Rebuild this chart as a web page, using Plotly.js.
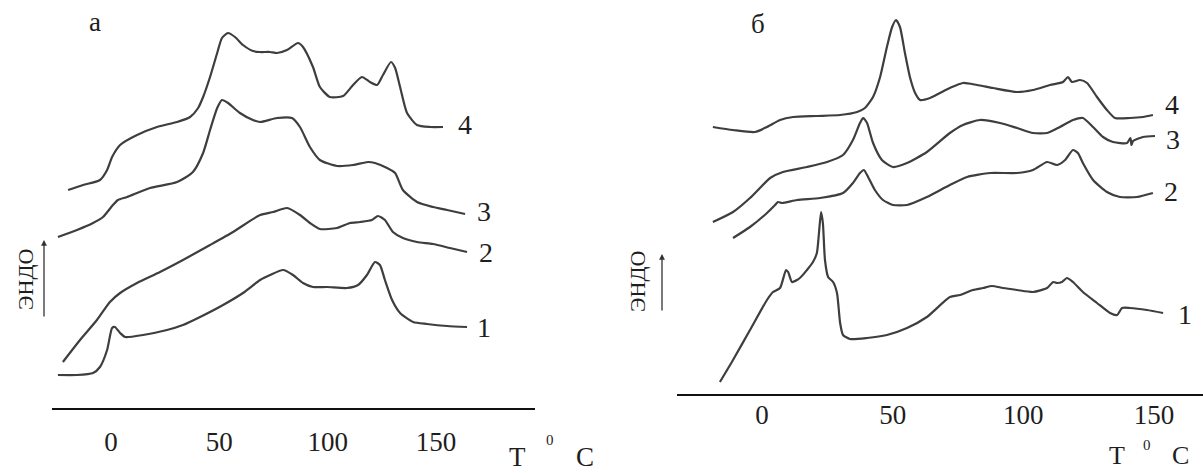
<!DOCTYPE html>
<html>
<head>
<meta charset="utf-8">
<script src="https://cdn.plot.ly/plotly-3.0.1.min.js"></script>
<style>html,body{margin:0;padding:0;background:#fff;}#chart{width:1203px;height:473px;}</style>
</head>
<body>
<div id="chart"></div>
<script>
// Panel "а" — temperature (°C) and relative heat-flow signal (arbitrary units)
const a1_T = [-24.5,-15.7,-8.3,-5.1,-1.8,0.5,1.8,4.2,6.5,14.8,25.8,33.2,41.1,51.7,60.9,68.8,73.4,79.4,84.0,88.6,93.2,99.7,108.9,114.0,118.1,121.8,124.1,126.4,129.7,133.4,139.4,145.8,155.1,164.3];
const a1_S = [33,33,35,41,58,80,81,75,71,73,78,83,91,103,115,128,133,138,133,125,121,121,120,123,133,146,143,128,108,95,86,84,82,81];
const a2_T = [-22.2,-14.3,-6.5,-0.5,4.2,12.0,22.6,33.2,45.7,56.3,68.8,74.8,81.2,87.2,91.8,96.4,104.3,110.3,114.9,120.4,123.2,126.4,130.1,134.7,141.2,148.6,156.4,164.3];
const a2_S = [46,68,88,106,115,125,136,148,163,176,193,196,200,193,185,179,180,185,186,188,192,188,176,170,166,164,160,156];
const a3_T = [-24.5,-15.7,-8.3,-3.7,0.9,3.2,7.4,18.0,30.5,37.8,42.5,45.7,49.0,51.2,54.0,59.5,65.5,68.8,76.6,83.5,87.2,91.8,96.4,104.3,111.7,118.6,121.8,127.4,131.1,134.7,141.2,148.6,155.1,163.4];
const a3_S = [171,178,185,191,203,208,211,220,226,236,255,278,300,308,305,295,288,286,290,290,281,261,248,242,243,246,245,240,235,218,206,201,198,194];
const a4_T = [-19.8,-12.9,-5.1,-1.8,0.5,4.2,12.0,21.2,30.5,36.5,40.2,42.5,45.7,49.0,51.2,54.0,57.2,60.9,65.5,68.7,73.4,76.6,81.2,86.3,88.6,93.2,96.4,101.0,107.1,111.7,115.8,119.5,122.8,125.5,129.2,131.1,133.4,136.6,141.2,147.2,153.2];
const a4_S = [218,223,228,238,251,263,273,281,286,291,300,311,331,355,370,375,371,363,357,356,356,355,358,365,361,341,321,311,312,323,331,326,323,333,346,340,321,295,283,281,281];

// Panel "б"
const b1_T = [-16.1,-11.1,-4.6,1.9,4.2,6.9,9.2,10.0,11.5,14.5,17.2,19.5,21.0,21.8,22.6,23.3,24.1,25.3,27.2,28.7,29.9,31.0,33.7,40.2,47.8,55.5,63.1,71.9,75.8,80.7,84.6,88.0,92.2,97.6,103.7,109.1,111.4,112.9,114.8,116.7,119.0,122.8,128.2,133.2,135.9,137.8,140.8,147.3,153.5];
const b1_S = [12,34,64,94,102,106,124,122,112,116,124,132,141,161,182,171,134,117,112,101,71,59,55,56,59,66,77,97,99,104,106,108,106,104,102,106,112,111,112,116,112,102,91,81,79,86,86,84,81];
const b2_T = [-11.1,-4.6,1.9,5.0,6.1,7.7,13.4,22.2,31.0,34.8,37.5,39.0,40.6,43.2,46.3,50.1,55.5,63.1,71.9,78.5,87.3,97.6,103.7,109.1,112.9,116.0,119.0,120.9,122.8,126.7,132.0,137.0,143.5,149.6];
const b2_S = [156,167,181,189,192,191,194,196,201,211,221,224,217,204,194,189,189,197,209,217,221,221,224,232,229,234,244,241,231,214,202,197,197,201];
const b3_T = [-18.8,-11.1,-4.6,-0.8,3.1,8.0,17.2,24.9,31.0,34.8,37.5,38.7,40.2,42.5,45.9,50.1,55.5,63.1,71.9,76.9,83.4,91.1,97.6,103.7,109.1,114.0,119.0,122.8,126.7,130.5,134.3,139.7,141.0,141.4,142.0,145.8,150.4];
const b3_S = [172,182,196,206,216,222,227,232,239,254,271,276,271,251,234,227,231,242,261,269,274,271,266,261,261,267,274,276,267,257,252,251,256,249,253,257,258];
const b4_T = [-18.8,-11.1,-2.7,1.9,6.9,11.9,21.0,29.9,36.4,39.4,42.5,45.2,47.8,49.8,51.3,52.8,54.7,56.6,58.6,60.5,64.3,68.1,71.9,76.9,82.3,88.4,97.6,103.7,110.2,115.2,117.1,118.6,121.7,124.4,128.2,132.0,135.1,140.8,145.8,149.6];
const b4_S = [267,264,262,267,274,277,278,279,282,286,297,317,347,367,374,367,341,317,301,294,296,301,306,311,309,306,302,304,309,312,317,312,314,311,297,284,276,276,277,279];

const tickVals = [0, 50, 100, 150];
const tickText = ['0', '50', '100', '150'];

const lineStyle = {color: '#3e3e3e', width: 2.2, shape: 'spline', smoothing: 0.6};
function tr(x, y, xa, ya) {
  return {x: x, y: y, xaxis: xa, yaxis: ya, mode: 'lines', line: lineStyle, hoverinfo: 'skip', showlegend: false};
}
const data = [
  tr(a1_T, a1_S, 'x', 'y'), tr(a2_T, a2_S, 'x', 'y'), tr(a3_T, a3_S, 'x', 'y'), tr(a4_T, a4_S, 'x', 'y'),
  tr(b1_T, b1_S, 'x2', 'y2'), tr(b2_T, b2_S, 'x2', 'y2'), tr(b3_T, b3_S, 'x2', 'y2'), tr(b4_T, b4_S, 'x2', 'y2')
];

const W = 1203, H = 473;
const px = v => v / W;
const py = v => 1 - v / H;
const serif = 'Liberation Serif, Times New Roman, serif';
const txt = '#1e1e1e';

function ann(text, x, y, size, extra) {
  return Object.assign({text: text, xref: 'paper', yref: 'paper', x: px(x), y: py(y), showarrow: false,
    xanchor: 'center', yanchor: 'middle', font: {family: serif, size: size, color: txt}}, extra || {});
}

const annotations = [
  ann('а', 95, 22, 27), ann('б', 758, 24, 27),
  ann('4', 465, 124, 28), ann('3', 484, 212, 28), ann('2', 486, 252, 28), ann('1', 484, 327, 28),
  ann('4', 1172, 104, 28), ann('3', 1173, 139, 28), ann('2', 1171, 191, 28), ann('1', 1185, 314, 28),
  ann('T', 517, 457, 27), ann('0', 550, 440, 15), ann('C', 585, 457, 27),
  ann('T', 1117, 455, 26), ann('0', 1147, 445, 15), ann('C', 1180, 455, 26),
  ann('ЭНДО', 25, 280, 22, {textangle: -90}),
  ann('ЭНДО', 637, 282, 22, {textangle: -90}),
  {text: '', xref: 'paper', yref: 'paper', x: px(44), y: py(240), ax: 0, ay: 78, axref: 'pixel', ayref: 'pixel',
   showarrow: true, arrowhead: 2, arrowsize: 0.9, arrowwidth: 1.3, arrowcolor: '#333'},
  {text: '', xref: 'paper', yref: 'paper', x: px(662), y: py(254), ax: 0, ay: 58, axref: 'pixel', ayref: 'pixel',
   showarrow: true, arrowhead: 2, arrowsize: 0.9, arrowwidth: 1.3, arrowcolor: '#333'}
];

const xCommon = {showline: true, linecolor: '#111', linewidth: 2, showgrid: false, zeroline: false,
  ticks: '', tickmode: 'array', tickvals: tickVals, ticktext: tickText, fixedrange: true,
  tickfont: {family: serif, size: 27, color: txt}};
const yCommon = {visible: false, showgrid: false, zeroline: false, fixedrange: true};

const layout = {
  width: W, height: H, margin: {l: 0, r: 0, t: 0, b: 0},
  paper_bgcolor: '#ffffff', plot_bgcolor: 'rgba(0,0,0,0)', showlegend: false,
  xaxis: Object.assign({}, xCommon, {domain: [px(52), px(535)], range: [-27.23, 195.66], anchor: 'y', ticklabelstandoff: 9}),
  yaxis: Object.assign({}, yCommon, {domain: [py(408), py(8)], range: [0, 400], anchor: 'x'}),
  xaxis2: Object.assign({}, xCommon, {domain: [px(677), 1], range: [-32.53, 168.77], anchor: 'y2', ticklabelstandoff: -4}),
  yaxis2: Object.assign({}, yCommon, {domain: [py(394), py(14)], range: [0, 380], anchor: 'x2'}),
  annotations: annotations
};

Plotly.newPlot('chart', data, layout, {staticPlot: true, displayModeBar: false});
</script>
</body>
</html>
